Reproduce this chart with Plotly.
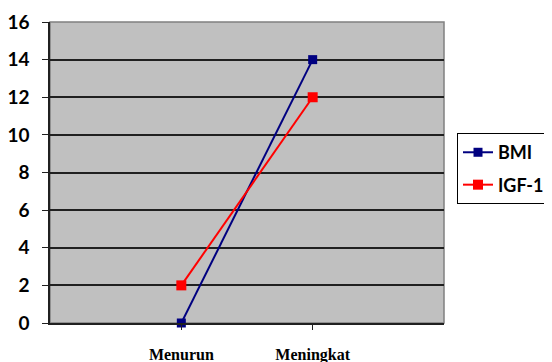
import plotly.graph_objects as go

categories = ["Menurun", "Meningkat"]
cat_pos = [1, 2]
bmi = [0, 14]
igf1 = [2, 12]
y_ticks = [0, 2, 4, 6, 8, 10, 12, 14, 16]

fig = go.Figure()
fig.add_trace(go.Scatter(x=cat_pos, y=bmi, name="BMI", mode="lines+markers",
                         line=dict(color="#000080", width=2),
                         marker=dict(symbol="square", size=9, color="#000080"),
                         legendgroup="a", cliponaxis=False))
fig.add_trace(go.Scatter(x=cat_pos, y=igf1, name="IGF-1", mode="lines+markers",
                         line=dict(color="#ff0000", width=2),
                         marker=dict(symbol="square", size=10, color="#ff0000"),
                         legendgroup="b", cliponaxis=False))

# page body has an 8px margin, so the figure is 544x354 placed at (8, 8)
fig.update_layout(
    width=544, height=354,
    margin=dict(l=42, r=108, t=14, b=39, autoexpand=False),
    paper_bgcolor="white",
    plot_bgcolor="#c0c0c0",
    showlegend=True,
    legend=dict(x=1.033, y=0.631, xanchor="left", yanchor="top",
                bordercolor="black", borderwidth=1, bgcolor="white",
                font=dict(family="Lato", size=18, color="black", weight="bold"),
                tracegroupgap=6, itemwidth=30),
    xaxis=dict(range=[0, 3], tickmode="array", tickvals=cat_pos, ticktext=categories,
               showgrid=False, zeroline=False, showline=True, linecolor="#202020", linewidth=1.5,
               ticks="outside", ticklen=5, tickcolor="#202020",
               ticklabelstandoff=11, automargin=False,
               tickfont=dict(family="Liberation Serif", size=16, color="black", weight="bold")),
    yaxis=dict(range=[0, 16], tickmode="array", tickvals=y_ticks,
               showgrid=True, gridcolor="#202020", gridwidth=1.5,
               zeroline=False, showline=True, linecolor="#202020", linewidth=1.5,
               ticks="outside", ticklen=6, tickcolor="#202020",
               ticklabelstandoff=9, automargin=False,
               tickfont=dict(family="Lato", size=19, color="black", weight="bold")),
)
fig.add_shape(type="rect", xref="paper", yref="paper", x0=0, y0=0, x1=1, y1=1,
              line=dict(color="#808080", width=1.5), layer="below")
fig.write_html("out.html")
